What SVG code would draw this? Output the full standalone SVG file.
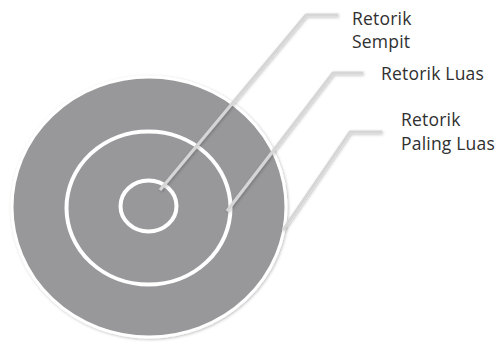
<svg xmlns="http://www.w3.org/2000/svg" width="502" height="342" viewBox="0 0 502 342">
<style>
.ring{fill:#98989b;stroke:#ffffff;}
.conn{fill:none;stroke:#d6d6d6;stroke-width:3;stroke-linejoin:round;}
.lbl{font-family:"Open Sans","Liberation Sans",sans-serif;font-size:17.5px;fill:#303030;letter-spacing:0.2px;}
</style>
<defs>
<filter id="sh" x="-10%" y="-10%" width="120%" height="120%">
<feDropShadow dx="1" dy="1" stdDeviation="1.5" flood-color="#000" flood-opacity="0.25"/>
</filter>
</defs>
<rect width="502" height="342" fill="#ffffff"/>
<g id="outer"><ellipse class="ring" cx="149" cy="207" rx="137" ry="130" stroke-width="3" filter="url(#sh)"/></g>
<g id="middle"><ellipse class="ring" cx="148.5" cy="208" rx="82" ry="76.5" stroke-width="4"/></g>
<g id="inner"><ellipse class="ring" cx="148.5" cy="206" rx="28" ry="25.5" stroke-width="4"/></g>
<g id="connectors" filter="url(#sh)">
<polyline class="conn" points="160,190 306,15 338,15"/>
<polyline class="conn" points="227,211 333,73 363,73"/>
<polyline class="conn" points="283,230 350,132 382,132"/>
</g>
<g id="label-sempit"><text class="lbl" x="352" y="25">Retorik</text><text class="lbl" x="352" y="48">Sempit</text></g>
<g id="label-luas"><text class="lbl" x="381" y="80">Retorik Luas</text></g>
<g id="label-paling"><text class="lbl" x="401" y="126">Retorik</text><text class="lbl" x="401" y="150">Paling Luas</text></g>
</svg>
